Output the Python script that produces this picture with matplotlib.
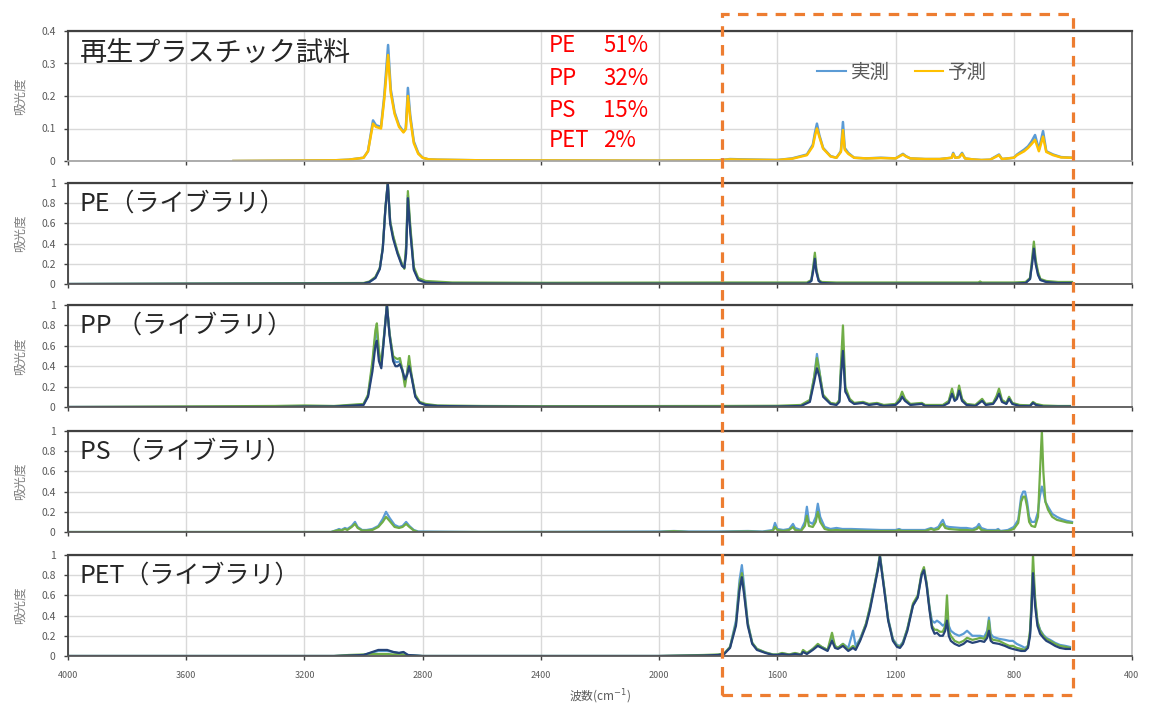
import matplotlib
matplotlib.use("Agg")
import matplotlib.pyplot as plt
from matplotlib.patches import Rectangle
from matplotlib.lines import Line2D

plt.rcParams['font.family'] = ['Noto Sans CJK JP', 'DejaVu Sans']

# ---- 再生プラスチック試料（実測 / 予測） ----
wn_sample = [3440, 3100, 3050, 3000, 2985, 2968, 2958, 2941, 2930, 2917, 2908, 2895, 2880,
             2865, 2857, 2850, 2842, 2830, 2815, 2800, 2780, 2750, 2600, 2000, 1800, 1760,
             1720, 1600, 1550, 1500, 1480, 1472, 1466, 1458, 1445, 1420, 1400, 1385, 1378,
             1372, 1360, 1340, 1300, 1250, 1200, 1175, 1165, 1150, 1100, 1050, 1010, 1005,
             998, 985, 975, 965, 940, 910, 880, 850, 840, 800, 789, 765, 752, 740, 728,
             715, 701, 690, 667, 640, 603]
sample_meas = [0.0, 0.002, 0.004, 0.01, 0.03, 0.125, 0.11, 0.105, 0.2, 0.357, 0.22, 0.15, 0.11,
               0.09, 0.1, 0.225, 0.14, 0.06, 0.025, 0.01, 0.005, 0.004, 0.002, 0.001, 0.002, 0.006,
               0.005, 0.003, 0.008, 0.02, 0.05, 0.09, 0.115, 0.08, 0.04, 0.015, 0.01, 0.03, 0.12,
               0.04, 0.025, 0.01, 0.008, 0.01, 0.008, 0.022, 0.015, 0.008, 0.006, 0.006, 0.01, 0.025,
               0.01, 0.012, 0.025, 0.008, 0.005, 0.003, 0.004, 0.02, 0.006, 0.01, 0.02, 0.035, 0.045,
               0.06, 0.08, 0.035, 0.092, 0.03, 0.02, 0.012, 0.01]
sample_pred = [0.0, 0.002, 0.004, 0.01, 0.03, 0.115, 0.105, 0.1, 0.19, 0.326, 0.21, 0.145, 0.105,
               0.088, 0.098, 0.2, 0.13, 0.055, 0.022, 0.01, 0.005, 0.004, 0.002, 0.001, 0.002, 0.005,
               0.004, 0.003, 0.007, 0.018, 0.045, 0.08, 0.1, 0.075, 0.038, 0.014, 0.01, 0.028, 0.095,
               0.035, 0.022, 0.01, 0.008, 0.009, 0.008, 0.02, 0.014, 0.008, 0.006, 0.006, 0.01, 0.022,
               0.01, 0.011, 0.022, 0.008, 0.005, 0.003, 0.004, 0.018, 0.006, 0.01, 0.018, 0.03, 0.04,
               0.052, 0.065, 0.03, 0.075, 0.028, 0.018, 0.011, 0.01]

# ---- PE（ライブラリ） ----
wn_pe = [4000, 3000, 2980, 2960, 2945, 2935, 2926, 2918, 2910, 2900, 2885, 2870, 2862, 2856,
         2850, 2842, 2830, 2815, 2790, 2700, 2400, 1800, 1700, 1500, 1485, 1478, 1473, 1468,
         1460, 1450, 1400, 1000, 920, 914, 908, 800, 760, 745, 738, 732, 726, 718, 710, 690,
         650, 603]
pe_light = [0.0, 0.005, 0.02, 0.06, 0.15, 0.35, 0.75, 1.0, 0.62, 0.47, 0.31, 0.19, 0.16, 0.35,
            0.88, 0.55, 0.15, 0.05, 0.02, 0.005, 0.004, 0.004, 0.004, 0.004, 0.03, 0.16, 0.28, 0.13,
            0.03, 0.01, 0.004, 0.004, 0.004, 0.008, 0.004, 0.004, 0.01, 0.05, 0.22, 0.38, 0.22, 0.1,
            0.04, 0.02, 0.01, 0.01]
pe_green = [0.0, 0.01, 0.025, 0.07, 0.16, 0.36, 0.76, 1.0, 0.62, 0.48, 0.32, 0.2, 0.15, 0.38,
            0.92, 0.58, 0.17, 0.06, 0.03, 0.015, 0.012, 0.015, 0.015, 0.015, 0.04, 0.18, 0.31, 0.15,
            0.04, 0.02, 0.015, 0.015, 0.015, 0.025, 0.015, 0.015, 0.02, 0.06, 0.25, 0.42, 0.24, 0.12,
            0.05, 0.03, 0.02, 0.02]
pe_dark = [0.0, 0.005, 0.02, 0.06, 0.15, 0.35, 0.75, 1.0, 0.6, 0.45, 0.3, 0.18, 0.16, 0.3,
           0.85, 0.52, 0.14, 0.04, 0.015, 0.005, 0.004, 0.004, 0.004, 0.004, 0.03, 0.14, 0.25, 0.12,
           0.03, 0.01, 0.004, 0.004, 0.004, 0.006, 0.004, 0.004, 0.01, 0.05, 0.2, 0.35, 0.2, 0.09,
           0.04, 0.02, 0.01, 0.01]

# ---- PP（ライブラリ） ----
wn_pp = [4000, 3300, 3200, 3100, 3000, 2985, 2970, 2960, 2955, 2948, 2940, 2930, 2921, 2912,
         2900, 2892, 2885, 2877, 2868, 2860, 2852, 2846, 2838, 2825, 2810, 2790, 2750, 2600,
         2400, 1800, 1600, 1520, 1490, 1475, 1466, 1458, 1445, 1420, 1400, 1390, 1385, 1378,
         1370, 1364, 1355, 1340, 1310, 1290, 1263, 1240, 1200, 1185, 1178, 1168, 1150, 1111,
         1100, 1040, 1020, 1009, 1000, 992, 985, 975, 960, 930, 907, 895, 870, 858, 850, 840,
         825, 816, 805, 780, 745, 735, 725, 700, 650, 610]
pp_dark = [0.0, 0.0, 0.005, 0.005, 0.02, 0.1, 0.35, 0.6, 0.65, 0.45, 0.38, 0.7, 1.0, 0.7,
           0.45, 0.4, 0.4, 0.42, 0.35, 0.27, 0.32, 0.4, 0.3, 0.1, 0.04, 0.02, 0.01, 0.005,
           0.002, 0.002, 0.005, 0.01, 0.05, 0.25, 0.38, 0.3, 0.1, 0.03, 0.02, 0.05, 0.3, 0.55,
           0.15, 0.12, 0.06, 0.03, 0.04, 0.02, 0.03, 0.01, 0.02, 0.06, 0.1, 0.06, 0.02, 0.03,
           0.01, 0.01, 0.04, 0.13, 0.06, 0.08, 0.16, 0.06, 0.02, 0.01, 0.06, 0.02, 0.03, 0.08,
           0.13, 0.05, 0.03, 0.08, 0.03, 0.01, 0.01, 0.04, 0.02, 0.005, 0.005, 0.005]
pp_green = [0.0, 0.01, 0.015, 0.01, 0.03, 0.12, 0.45, 0.75, 0.82, 0.55, 0.42, 0.72, 1.0, 0.72,
            0.5, 0.48, 0.47, 0.48, 0.35, 0.2, 0.35, 0.5, 0.32, 0.12, 0.05, 0.03, 0.015, 0.01,
            0.008, 0.01, 0.012, 0.02, 0.07, 0.3, 0.48, 0.35, 0.12, 0.04, 0.03, 0.07, 0.4, 0.8,
            0.2, 0.15, 0.08, 0.04, 0.05, 0.03, 0.04, 0.02, 0.03, 0.09, 0.15, 0.08, 0.03, 0.04,
            0.02, 0.02, 0.06, 0.18, 0.08, 0.1, 0.21, 0.08, 0.03, 0.02, 0.08, 0.03, 0.04, 0.11,
            0.18, 0.07, 0.04, 0.1, 0.04, 0.02, 0.015, 0.05, 0.03, 0.015, 0.01, 0.01]
pp_light = [0.0, 0.0, 0.005, 0.005, 0.025, 0.11, 0.4, 0.7, 0.75, 0.5, 0.4, 0.72, 1.0, 0.72,
            0.48, 0.44, 0.44, 0.45, 0.36, 0.24, 0.34, 0.45, 0.31, 0.11, 0.045, 0.02, 0.01, 0.005,
            0.003, 0.003, 0.006, 0.012, 0.06, 0.3, 0.52, 0.36, 0.11, 0.035, 0.025, 0.06, 0.35, 0.6,
            0.17, 0.13, 0.07, 0.035, 0.045, 0.025, 0.035, 0.015, 0.025, 0.07, 0.12, 0.07, 0.025, 0.035,
            0.015, 0.015, 0.05, 0.15, 0.07, 0.09, 0.18, 0.07, 0.025, 0.015, 0.07, 0.025, 0.035, 0.09,
            0.15, 0.06, 0.035, 0.09, 0.035, 0.015, 0.012, 0.045, 0.025, 0.008, 0.008, 0.008]

# ---- PS（ライブラリ） ----
wn_ps = [4000, 3110, 3100, 3090, 3083, 3075, 3063, 3055, 3040, 3029, 3020, 3005, 2990, 2970,
         2950, 2935, 2924, 2912, 2895, 2880, 2868, 2856, 2845, 2830, 2815, 2600, 2000, 1950,
         1900, 1800, 1700, 1650, 1615, 1608, 1600, 1580, 1560, 1547, 1540, 1520, 1507, 1500,
         1493, 1480, 1470, 1463, 1455, 1440, 1420, 1400, 1380, 1350, 1300, 1250, 1200, 1188,
         1180, 1150, 1100, 1080, 1070, 1055, 1045, 1040, 1032, 1020, 980, 960, 940, 925, 918,
         910, 890, 860, 853, 845, 820, 800, 785, 775, 768, 762, 755, 748, 740, 728, 718, 712,
         705, 700, 693, 684, 670, 654, 640, 620, 603]
ps_light = [0.0, 0.0, 0.01, 0.02, 0.03, 0.02, 0.04, 0.03, 0.06, 0.1, 0.05, 0.02, 0.02, 0.03,
            0.06, 0.13, 0.2, 0.14, 0.07, 0.05, 0.06, 0.1, 0.06, 0.02, 0.005, 0.0, 0.005, 0.01,
            0.005, 0.005, 0.01, 0.005, 0.02, 0.09, 0.03, 0.02, 0.03, 0.08, 0.04, 0.02, 0.1, 0.25,
            0.1, 0.08, 0.15, 0.28, 0.15, 0.05, 0.03, 0.04, 0.03, 0.03, 0.025, 0.02, 0.02, 0.03,
            0.02, 0.02, 0.02, 0.04, 0.03, 0.05, 0.1, 0.12, 0.06, 0.05, 0.04, 0.04, 0.03, 0.05, 0.08,
            0.04, 0.02, 0.02, 0.03, 0.01, 0.02, 0.05, 0.12, 0.35, 0.4, 0.4, 0.3, 0.15, 0.1, 0.1, 0.2,
            0.35, 0.45, 0.4, 0.3, 0.25, 0.18, 0.15, 0.13, 0.11, 0.1]
ps_green = [0.0, 0.0, 0.008, 0.015, 0.02, 0.015, 0.03, 0.02, 0.05, 0.08, 0.04, 0.015, 0.015, 0.02,
            0.05, 0.1, 0.15, 0.11, 0.05, 0.04, 0.05, 0.08, 0.05, 0.015, 0.0, 0.0, 0.0, 0.008,
            0.0, 0.0, 0.005, 0.0, 0.01, 0.05, 0.02, 0.01, 0.02, 0.05, 0.02, 0.01, 0.06, 0.16,
            0.06, 0.05, 0.1, 0.2, 0.1, 0.03, 0.015, 0.02, 0.015, 0.015, 0.01, 0.01, 0.01, 0.02,
            0.01, 0.01, 0.01, 0.03, 0.02, 0.03, 0.07, 0.08, 0.04, 0.03, 0.02, 0.02, 0.015, 0.03, 0.05,
            0.02, 0.01, 0.01, 0.015, 0.005, 0.01, 0.03, 0.09, 0.3, 0.35, 0.35, 0.25, 0.1, 0.06, 0.05, 0.15,
            0.55, 1.0, 0.6, 0.3, 0.22, 0.15, 0.12, 0.11, 0.095, 0.09]

# ---- PET（ライブラリ） ----
wn_pet = [4000, 3100, 3050, 3000, 2970, 2950, 2920, 2900, 2880, 2865, 2850, 2800, 2500, 2000,
          1850, 1800, 1780, 1760, 1740, 1728, 1720, 1712, 1700, 1685, 1669, 1640, 1615, 1600,
          1584, 1560, 1540, 1520, 1513, 1500, 1480, 1463, 1450, 1430, 1415, 1405, 1395, 1378,
          1360, 1344, 1335, 1320, 1300, 1287, 1270, 1260, 1253, 1245, 1236, 1225, 1209, 1195,
          1185, 1175, 1160, 1141, 1125, 1112, 1104, 1095, 1085, 1077, 1068, 1060, 1050, 1040,
          1032, 1026, 1020, 1013, 1000, 985, 970, 958, 940, 925, 914, 900, 890, 884, 878, 870,
          850, 830, 815, 803, 790, 775, 762, 752, 745, 740, 735, 728, 720, 711, 700, 690, 677,
          660, 644, 625, 610]
pet_dark = [0.0, 0.0, 0.005, 0.01, 0.04, 0.06, 0.06, 0.04, 0.03, 0.04, 0.01, 0.0, 0.0, 0.0,
            0.005, 0.01, 0.02, 0.08, 0.3, 0.65, 0.78, 0.6, 0.3, 0.12, 0.06, 0.03, 0.01, 0.01,
            0.02, 0.01, 0.02, 0.01, 0.04, 0.02, 0.06, 0.1, 0.08, 0.05, 0.15, 0.08, 0.07, 0.1,
            0.05, 0.08, 0.06, 0.15, 0.3, 0.45, 0.7, 0.85, 0.98, 0.8, 0.6, 0.35, 0.15, 0.09,
            0.08, 0.12, 0.25, 0.5, 0.58, 0.8, 0.85, 0.7, 0.45, 0.28, 0.22, 0.23, 0.2, 0.2,
            0.25, 0.35, 0.2, 0.15, 0.12, 0.1, 0.12, 0.15, 0.13, 0.14, 0.15, 0.14, 0.18, 0.25, 0.15, 0.13,
            0.12, 0.1, 0.08, 0.07, 0.06, 0.05, 0.05, 0.08, 0.2, 0.45, 0.82, 0.5, 0.3, 0.22, 0.18, 0.15, 0.13,
            0.1, 0.08, 0.07, 0.07]
pet_green = [0.0, 0.0, 0.01, 0.015, 0.02, 0.02, 0.02, 0.015, 0.02, 0.015, 0.005, 0.0, 0.0, 0.0,
             0.01, 0.015, 0.025, 0.09, 0.32, 0.7, 0.82, 0.63, 0.32, 0.13, 0.07, 0.035, 0.015, 0.015,
             0.03, 0.015, 0.03, 0.015, 0.06, 0.03, 0.07, 0.12, 0.09, 0.06, 0.23, 0.1, 0.08, 0.12,
             0.06, 0.1, 0.07, 0.16, 0.32, 0.48, 0.72, 0.87, 1.0, 0.82, 0.62, 0.36, 0.16, 0.1,
             0.09, 0.13, 0.27, 0.52, 0.6, 0.82, 0.88, 0.72, 0.47, 0.3, 0.26, 0.26, 0.24, 0.24,
             0.3, 0.6, 0.25, 0.2, 0.15, 0.13, 0.15, 0.18, 0.16, 0.17, 0.18, 0.17, 0.22, 0.35, 0.18, 0.16,
             0.15, 0.12, 0.1, 0.1, 0.08, 0.07, 0.06, 0.1, 0.25, 0.55, 1.0, 0.58, 0.34, 0.25, 0.2, 0.17, 0.15,
             0.12, 0.1, 0.09, 0.08]
pet_light = [0.0, 0.0, 0.005, 0.01, 0.035, 0.05, 0.05, 0.04, 0.03, 0.035, 0.01, 0.0, 0.0, 0.0,
             0.005, 0.01, 0.02, 0.09, 0.35, 0.75, 0.9, 0.68, 0.33, 0.13, 0.07, 0.035, 0.015, 0.015,
             0.025, 0.015, 0.025, 0.015, 0.05, 0.025, 0.07, 0.11, 0.09, 0.06, 0.17, 0.1, 0.08, 0.12,
             0.08, 0.25, 0.1, 0.17, 0.32, 0.47, 0.72, 0.87, 1.0, 0.82, 0.62, 0.37, 0.17, 0.11,
             0.1, 0.14, 0.27, 0.5, 0.58, 0.8, 0.86, 0.72, 0.48, 0.35, 0.33, 0.35, 0.33, 0.3,
             0.32, 0.38, 0.3, 0.25, 0.22, 0.2, 0.22, 0.25, 0.2, 0.2, 0.2, 0.19, 0.25, 0.38, 0.22, 0.19,
             0.17, 0.16, 0.15, 0.15, 0.12, 0.1, 0.08, 0.1, 0.22, 0.5, 0.85, 0.55, 0.34, 0.26, 0.21, 0.18, 0.16,
             0.13, 0.11, 0.1, 0.09]

composition = [("PE", "51%"), ("PP", "32%"), ("PS", "15%"), ("PET", "2%")]

C_LIGHT = "#5B9BD5"
C_GREEN = "#70AD47"
C_DARK = "#264478"
C_YELLOW = "#FFC000"
GRID = "#D9D9D9"
TXT = "#595959"

fig = plt.figure(figsize=(11.49, 7.10), dpi=100)

# 各パネルの位置（ピクセルの上端・下端）
left, width = 68 / 1149, 1064 / 1149
rows = [(31, 161), (183, 284), (305, 407), (431, 532), (555, 656)]
axes = []
for top, bot in rows:
    ax = fig.add_axes([left, 1 - bot / 710, width, (bot - top) / 710])
    axes.append(ax)


def style_axis(ax, ymax, ystep, show_xlabels=False, right_dark=False):
    ax.set_xlim(4000, 400)
    ax.set_ylim(0, ymax)
    ax.set_xticks(range(4000, 399, -400))
    n = int(round(ymax / ystep))
    ax.set_yticks([i * ystep for i in range(n + 1)])
    ax.set_yticklabels([f"{i * ystep:g}" for i in range(n + 1)])
    ax.grid(True, color=GRID, lw=1.0)
    ax.set_axisbelow(True)
    ax.tick_params(axis="both", colors="#404040", labelcolor=TXT, labelsize=7.5, length=3, width=1)
    ax.tick_params(axis="y", pad=6)
    ax.tick_params(axis="x", labelsize=6.5, pad=8)
    if not show_xlabels:
        ax.tick_params(axis="x", labelbottom=False)
    ax.spines["top"].set_color("#404040")
    ax.spines["top"].set_linewidth(1.6)
    ax.spines["left"].set_color("#404040")
    ax.spines["left"].set_linewidth(1.3)
    ax.spines["bottom"].set_color("#595959")
    ax.spines["bottom"].set_linewidth(1.3)
    ax.spines["right"].set_color("#595959" if right_dark else "#BFBFBF")
    ax.spines["right"].set_linewidth(1.2)
    ax.set_ylabel("吸光度", fontsize=9, color="#7F7F7F")
    ax.yaxis.set_label_coords(-0.039, 0.5)


# 再生プラスチック試料
ax = axes[0]
style_axis(ax, 0.4, 0.1, right_dark=True)
ax.spines["bottom"].set_color("#A6A6A6")
ax.plot(wn_sample, sample_meas, color=C_LIGHT, lw=1.8)
ax.plot(wn_sample, sample_pred, color=C_YELLOW, lw=1.8)
ax.text(0.011, 0.83, "再生プラスチック試料", transform=ax.transAxes, fontsize=19.5,
        color="#262626", va="center", ha="left")
ys = [0.892, 0.638, 0.392, 0.154]
for (name, pct), y in zip(composition, ys):
    ax.text(0.452, y, name, transform=ax.transAxes, fontsize=16, color="#FF0000",
            va="center", ha="left")
    ax.text(0.503, y, pct, transform=ax.transAxes, fontsize=16, color="#FF0000",
            va="center", ha="left")
handles = [Line2D([], [], color=C_LIGHT, lw=1.5), Line2D([], [], color=C_YELLOW, lw=1.5)]
leg = ax.legend(handles, ["実測", "予測"], ncol=2, loc="center", bbox_to_anchor=(0.784, 0.68),
                frameon=False, fontsize=14, handlelength=1.45, columnspacing=1.3,
                handletextpad=0.25)
for t in leg.get_texts():
    t.set_color(TXT)

# ライブラリ
libs = [
    ("PE（ライブラリ）", wn_pe, [pe_light, pe_green, pe_dark]),
    ("PP （ライブラリ）", wn_pp, [pp_light, pp_green, pp_dark]),
    ("PS （ライブラリ）", wn_ps, [ps_light, ps_green]),
    ("PET（ライブラリ）", wn_pet, [pet_light, pet_green, pet_dark]),
]
colors = [C_LIGHT, C_GREEN, C_DARK]
for i, (label, wn, series) in enumerate(libs):
    ax = axes[i + 1]
    style_axis(ax, 1.0, 0.2, show_xlabels=(i == 3))
    for ys_, c in zip(series, colors):
        ax.plot(wn, ys_, color=c, lw=1.6)
    ax.text(0.011, 0.8, label, transform=ax.transAxes, fontsize=18,
            color="#262626", va="center", ha="left")

axes[-1].set_xlabel("波数(cm$^{-1}$)", fontsize=8.5, color=TXT, labelpad=5)

# オレンジ破線枠
rect = Rectangle((722 / 1149, 1 - 695 / 710), (1073 - 722) / 1149, (695 - 14) / 710,
                 transform=fig.transFigure, fill=False, ec="#ED7D31", lw=2.3,
                 ls=(0, (3.3, 2.6)))
fig.add_artist(rect)

fig.savefig("out.png", dpi=100)
